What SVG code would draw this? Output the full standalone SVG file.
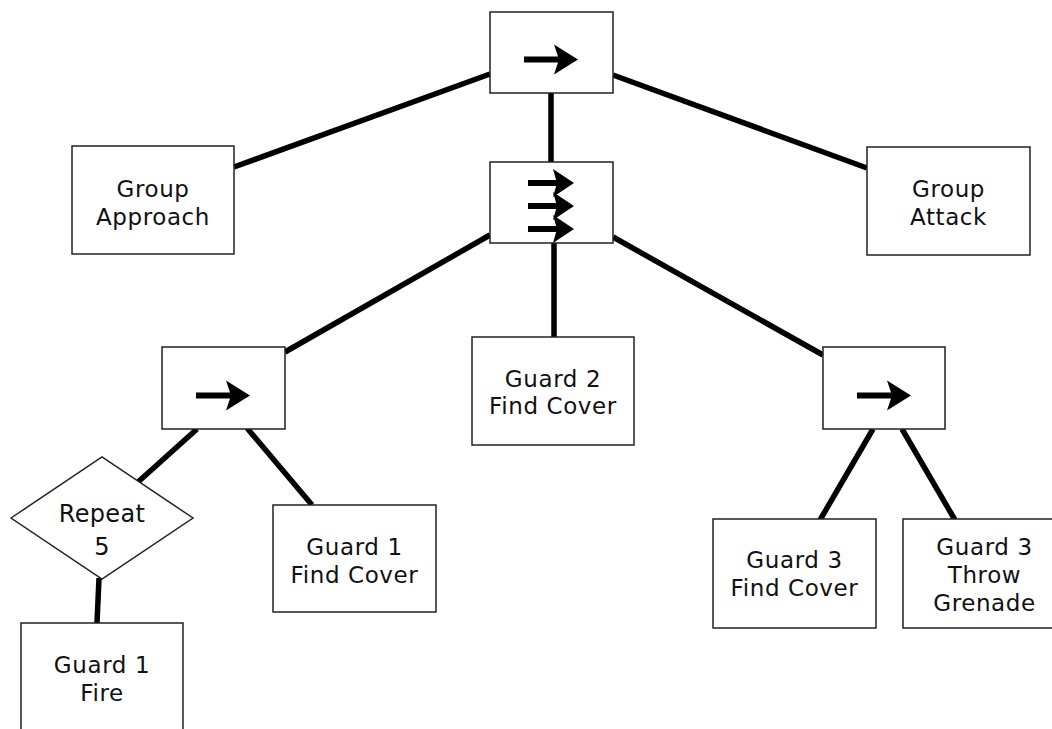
<svg xmlns="http://www.w3.org/2000/svg" xmlns:xlink="http://www.w3.org/1999/xlink" width="1052" height="729" viewBox="0 0 1052 729">
<style>
.box{fill:#fff;stroke:#222;stroke-width:1.5}
.lbl{font-family:"DejaVu Sans","Liberation Sans",sans-serif;font-size:23px;letter-spacing:0.6px;fill:#111;text-anchor:middle}
.rep{font-size:24px;letter-spacing:0.3px}
.conn line{stroke:#000;stroke-width:5.5;stroke-linecap:butt}
.ico{fill:#000}
</style>
<defs>
<g id="arrow">
<rect x="-54" y="-3" width="38" height="6"/>
<polygon points="-24,-15 0,0 -24,15 -19,0"/>
</g>
<g id="arrowS">
<rect x="-46" y="-3" width="30" height="6"/>
<polygon points="-21,-14 0,0 -21,14 -17,0"/>
</g>
</defs>
<rect width="1052" height="729" fill="#fff"/>
<g id="connectors" class="conn">
<line x1="490" y1="74" x2="234" y2="167"/>
<line x1="613" y1="75" x2="867" y2="168"/>
<line x1="551" y1="93" x2="551" y2="162"/>
<line x1="490" y1="235" x2="285" y2="352"/>
<line x1="554" y1="243" x2="554" y2="337"/>
<line x1="613" y1="237" x2="823" y2="355"/>
<line x1="197" y1="429" x2="138" y2="482"/>
<line x1="247" y1="428" x2="312" y2="505"/>
<line x1="99" y1="578" x2="97" y2="623"/>
<line x1="873" y1="429" x2="820" y2="520"/>
<line x1="902" y1="429" x2="955" y2="520"/>
</g>
<g id="root-sequence">
<rect class="box" x="490" y="12" width="123" height="81"/>
<use xlink:href="#arrow" x="578" y="59.5" class="ico"/>
</g>
<g id="group-approach">
<rect class="box" x="72" y="146" width="162" height="108"/>
<text class="lbl" x="153" y="197">Group</text>
<text class="lbl" x="153" y="224.5">Approach</text>
</g>
<g id="group-attack">
<rect class="box" x="867" y="147" width="163" height="108"/>
<text class="lbl" x="948.5" y="197">Group</text>
<text class="lbl" x="948.5" y="224.5">Attack</text>
</g>
<g id="parallel">
<rect class="box" x="490" y="162" width="123" height="81"/>
<use xlink:href="#arrowS" x="574" y="183" class="ico"/>
<use xlink:href="#arrowS" x="574" y="206" class="ico"/>
<use xlink:href="#arrowS" x="574" y="229" class="ico"/>
</g>
<g id="left-sequence">
<rect class="box" x="162" y="347" width="123" height="82"/>
<use xlink:href="#arrow" x="250" y="395.5" class="ico"/>
</g>
<g id="guard2-find-cover">
<rect class="box" x="472" y="337" width="162" height="108"/>
<text class="lbl" x="553" y="387">Guard 2</text>
<text class="lbl" x="553" y="413.5">Find Cover</text>
</g>
<g id="right-sequence">
<rect class="box" x="823" y="347" width="122" height="82"/>
<use xlink:href="#arrow" x="911" y="395.5" class="ico"/>
</g>
<g id="repeat-5">
<polygon class="box" points="11,518 102,457 193,518 102,579"/>
<text class="lbl rep" x="102" y="522">Repeat</text>
<text class="lbl rep" x="102" y="555">5</text>
</g>
<g id="guard1-fire">
<rect class="box" x="21" y="623" width="162" height="110"/>
<text class="lbl" x="102" y="673">Guard 1</text>
<text class="lbl" x="102" y="701">Fire</text>
</g>
<g id="guard1-find-cover">
<rect class="box" x="273" y="505" width="163" height="107"/>
<text class="lbl" x="354.5" y="555">Guard 1</text>
<text class="lbl" x="354.5" y="582.5">Find Cover</text>
</g>
<g id="guard3-find-cover">
<rect class="box" x="713" y="519" width="163" height="109"/>
<text class="lbl" x="794.5" y="568">Guard 3</text>
<text class="lbl" x="794.5" y="596">Find Cover</text>
</g>
<g id="guard3-throw-grenade">
<rect class="box" x="903" y="519" width="163" height="109"/>
<text class="lbl" x="984.5" y="555">Guard 3</text>
<text class="lbl" x="984.5" y="583">Throw</text>
<text class="lbl" x="984.5" y="611">Grenade</text>
</g>
</svg>
